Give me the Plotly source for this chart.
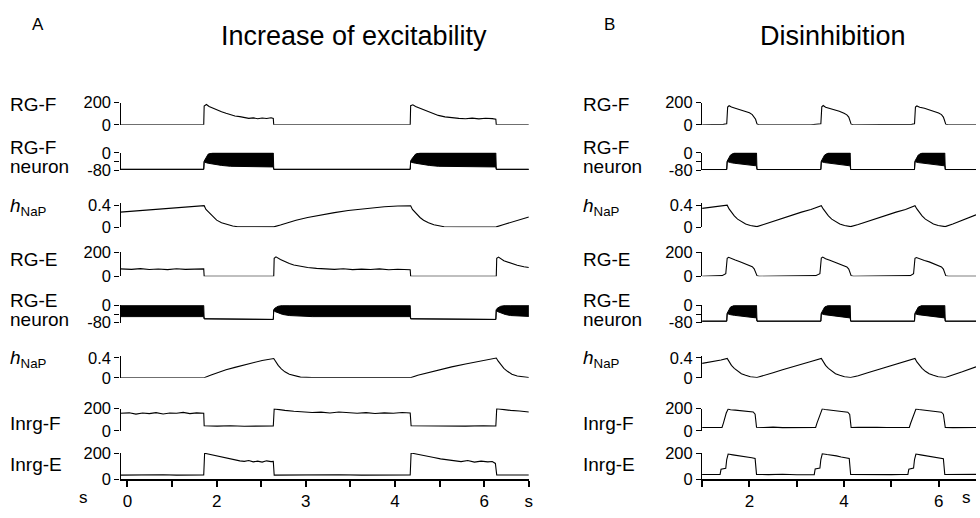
import plotly.graph_objects as go

# ---------------- panel A : increase of excitability ----------------
a_rgf_t = [-0.16, 1.71, 1.72, 1.77, 1.83, 1.91, 2.01, 2.11, 2.21, 2.31, 2.41, 2.52, 2.62, 2.72, 2.82, 2.92, 3.02, 3.12, 3.22, 3.27,
           3.28, 6.34, 6.35, 6.40, 6.46, 6.56, 6.67, 6.77, 6.87, 6.97, 7.12, 7.27, 7.43, 7.58, 7.73, 7.88, 8.03, 8.18, 8.26, 8.27, 9.0]
a_rgf = [0, 0, 170, 183, 165, 150, 138, 118, 104, 92, 80, 74, 66, 58, 63, 55, 61, 57, 64, 58,
         0, 0, 172, 180, 165, 148, 130, 112, 98, 85, 72, 62, 58, 55, 60, 54, 59, 56, 50, 0, 0]

# neuron traces: spike bursts drawn as an envelope (low / high membrane potential)
a_rgfn_t = [-0.16, 1.71, 1.72, 1.74, 1.81, 1.91, 2.11, 2.31, 2.52, 2.92, 3.27, 3.28,
            6.34, 6.35, 6.37, 6.46, 6.56, 6.77, 6.97, 7.27, 7.78, 8.26, 8.27, 9.0]
a_rgfn_hi = [-76, -76, -38, -30, -6, 0, 0, 0, 0, 0, 0, -76,
             -76, -38, -30, -6, 0, 0, 0, 0, 0, 0, -76, -76]
a_rgfn_lo = [-76, -76, -40, -44, -48, -53, -58, -62, -64, -65, -65, -76,
             -76, -40, -44, -48, -53, -58, -62, -64, -65, -65, -76, -76]

a_h1_t = [-0.16, 0.29, 0.69, 1.10, 1.50, 1.72, 1.76, 1.85, 1.93, 2.00, 2.11, 2.23, 2.36, 2.47, 2.72, 3.28, 3.43, 3.58, 3.78, 4.04,
          4.34, 4.64, 4.95, 5.35, 5.76, 6.06, 6.35, 6.39, 6.48, 6.56, 6.64, 6.75, 6.87, 7.00, 7.10, 7.48, 8.27, 8.44, 8.59, 8.79, 9.0]
a_h1 = [0.28, 0.31, 0.34, 0.37, 0.39, 0.40, 0.33, 0.25, 0.18, 0.13, 0.08, 0.045, 0.02, 0.008, 0.004, 0.005, 0.04, 0.08, 0.13, 0.18,
        0.23, 0.27, 0.31, 0.35, 0.38, 0.395, 0.40, 0.33, 0.25, 0.18, 0.13, 0.08, 0.045, 0.02, 0.008, 0.004, 0.005, 0.05, 0.09, 0.14, 0.19]

a_rge_t = [-0.16, 0.09, 0.29, 0.49, 0.69, 0.90, 1.10, 1.30, 1.50, 1.71, 1.72, 3.28, 3.29, 3.33, 3.43, 3.53, 3.63, 3.73, 3.88, 4.04,
           4.24, 4.44, 4.64, 4.84, 5.05, 5.25, 5.45, 5.65, 5.86, 6.06, 6.26, 6.34, 6.35, 8.27, 8.28, 8.32, 8.44, 8.59, 8.74, 8.89, 9.0]
a_rge = [62, 58, 64, 57, 61, 56, 63, 58, 60, 62, 0, 0, 150, 162, 140, 122, 106, 94, 82, 74,
         66, 62, 58, 63, 56, 60, 57, 62, 55, 59, 57, 55, 0, 0, 150, 160, 130, 108, 92, 80, 74]

a_rgen_t = [-0.16, 1.71, 1.72, 3.27, 3.28, 3.30, 3.38, 3.48, 3.63, 3.83, 4.14, 6.34, 6.35, 8.26, 8.27, 8.29, 8.37, 8.47, 8.59, 8.79, 9.0]
a_rgen_hi = [0, 0, -62, -65, -20, -14, -4, 0, 0, 0, 0, 0, -62, -65, -20, -14, -4, 0, 0, 0, 0]
a_rgen_lo = [-52, -52, -62, -65, -22, -28, -36, -42, -47, -50, -52, -52, -62, -65, -22, -28, -36, -42, -47, -50, -51]

a_h2_t = [-0.16, 1.72, 1.86, 2.01, 2.21, 2.41, 2.62, 2.82, 3.02, 3.28, 3.32, 3.38, 3.45, 3.53, 3.63, 3.75, 3.88, 4.14, 6.36, 6.51,
          6.72, 6.97, 7.27, 7.58, 7.88, 8.08, 8.27, 8.31, 8.37, 8.44, 8.52, 8.62, 8.74, 8.87, 9.0]
a_h2 = [0.0, 0.0, 0.05, 0.10, 0.16, 0.21, 0.26, 0.31, 0.35, 0.39, 0.33, 0.25, 0.18, 0.12, 0.07, 0.035, 0.012, 0.003, 0.003, 0.05,
        0.10, 0.16, 0.22, 0.28, 0.33, 0.37, 0.40, 0.34, 0.26, 0.19, 0.13, 0.07, 0.035, 0.012, 0.004]

a_inf_t = [-0.16, 0.04, 0.19, 0.34, 0.49, 0.64, 0.80, 0.95, 1.10, 1.25, 1.40, 1.55, 1.71, 1.72, 2.01, 2.31, 2.62, 2.92, 3.27, 3.29,
           3.38, 3.53, 3.73, 3.93, 4.14, 4.34, 4.54, 4.74, 4.95, 5.15, 5.35, 5.55, 5.76, 5.96, 6.16, 6.34, 6.36, 6.77, 7.17, 7.58,
           7.98, 8.26, 8.28, 8.39, 8.59, 8.79, 9.0]
a_inf = [158, 162, 150, 160, 155, 164, 152, 160, 158, 166, 155, 162, 158, 45, 42, 46, 41, 45, 44, 198,
         192, 184, 176, 170, 165, 168, 160, 170, 162, 158, 164, 156, 162, 158, 165, 160, 45, 43, 46, 42,
         45, 44, 200, 192, 184, 178, 170]

a_ine_t = [-0.16, 0.19, 0.49, 0.80, 1.10, 1.40, 1.71, 1.73, 1.81, 1.91, 2.01, 2.11, 2.21, 2.31, 2.41, 2.52, 2.62, 2.72, 2.82, 2.92,
           3.02, 3.12, 3.22, 3.27, 3.29, 3.73, 4.24, 4.74, 5.25, 5.76, 6.34, 6.36, 6.46, 6.56, 6.72, 6.87, 7.02, 7.17, 7.32, 7.48,
           7.63, 7.78, 7.93, 8.08, 8.18, 8.25, 8.28, 8.59, 9.0]
a_ine = [30, 32, 29, 33, 30, 32, 31, 198, 192, 186, 178, 170, 160, 152, 148, 140, 136, 142, 132, 138,
         130, 140, 134, 136, 30, 32, 29, 33, 30, 31, 32, 200, 192, 186, 175, 165, 155, 148, 140, 134,
         142, 130, 138, 132, 135, 120, 32, 30, 31]

# ---------------- panel B : disinhibition ----------------
b_rgf_t = [1.0, 1.3, 1.45, 1.52, 1.54, 1.57, 1.62, 1.7, 1.8, 1.9, 2.0, 2.06, 2.1, 2.13, 2.16, 2.2, 3.3, 3.45, 3.51, 3.53,
           3.56, 3.61, 3.7, 3.8, 3.9, 4.0, 4.06, 4.1, 4.12, 4.15, 4.2, 5.3, 5.43, 5.49, 5.51, 5.54, 5.6, 5.7, 5.8, 5.9,
           6.0, 6.06, 6.1, 6.12, 6.15, 6.2, 6.79]
b_rgf = [0, 0, 4, 10, 160, 172, 160, 150, 138, 124, 108, 92, 72, 50, 8, 0, 0, 4, 10, 162,
         174, 158, 148, 136, 122, 104, 90, 70, 48, 6, 0, 0, 4, 10, 160, 170, 158, 150, 136, 120,
         106, 92, 70, 46, 6, 0, 0]

b_nrn_t = [1.0, 1.52, 1.53, 1.55, 1.6, 1.68, 1.8, 2.0, 2.15, 2.16, 3.51, 3.52, 3.54, 3.59, 3.67, 3.8, 4.0, 4.13, 4.14, 5.49,
           5.50, 5.52, 5.57, 5.65, 5.8, 6.0, 6.13, 6.14, 6.79]
b_rgfn_hi = [-77, -77, -38, -28, -10, 0, 0, 0, 0, -77, -77, -38, -28, -10, 0, 0, 0, 0, -77, -77,
             -38, -28, -10, 0, 0, 0, 0, -77, -77]
b_rgfn_lo = [-77, -77, -40, -42, -45, -48, -52, -57, -60, -77, -77, -40, -42, -45, -48, -52, -57, -60, -77, -77,
             -40, -42, -45, -48, -52, -57, -60, -77, -77]

b_h_t = [1.0, 1.2, 1.4, 1.53, 1.57, 1.62, 1.68, 1.75, 1.83, 1.92, 2.02, 2.16, 2.3, 2.5, 2.7, 2.9, 3.1, 3.3, 3.52, 3.56,
         3.61, 3.67, 3.74, 3.82, 3.91, 4.01, 4.14, 4.3, 4.5, 4.7, 4.9, 5.1, 5.3, 5.50, 5.54, 5.59, 5.65, 5.72, 5.8, 5.89,
         5.99, 6.14, 6.3, 6.5, 6.79]
b_h1 = [0.35, 0.37, 0.39, 0.41, 0.34, 0.27, 0.21, 0.15, 0.10, 0.06, 0.03, 0.01, 0.05, 0.11, 0.17, 0.23, 0.28, 0.33, 0.40, 0.34,
        0.27, 0.21, 0.15, 0.10, 0.06, 0.03, 0.01, 0.05, 0.11, 0.17, 0.23, 0.28, 0.33, 0.40, 0.34, 0.27, 0.21, 0.15, 0.10, 0.06,
        0.03, 0.01, 0.06, 0.13, 0.23]

b_rge_t = [1.0, 1.3, 1.42, 1.5, 1.53, 1.56, 1.62, 1.7, 1.8, 1.9, 2.0, 2.06, 2.1, 2.13, 2.16, 2.2, 3.3, 3.4, 3.49, 3.52,
           3.55, 3.61, 3.7, 3.8, 3.9, 4.0, 4.06, 4.1, 4.12, 4.15, 4.2, 5.3, 5.4, 5.47, 5.5, 5.53, 5.6, 5.7, 5.8, 5.9,
           6.0, 6.06, 6.1, 6.12, 6.15, 6.2, 6.79]
b_rge = [0, 0, 6, 22, 150, 158, 146, 135, 122, 108, 94, 80, 62, 40, 6, 0, 0, 6, 22, 152,
         160, 146, 134, 120, 106, 92, 78, 60, 40, 6, 0, 0, 6, 22, 150, 156, 144, 132, 120, 106,
         90, 78, 60, 38, 6, 0, 0]

b_rgen_hi = [-73, -73, -36, -26, -8, 0, 0, 0, 0, -73, -73, -36, -26, -8, 0, 0, 0, 0, -73, -73,
             -36, -26, -8, 0, 0, 0, 0, -73, -73]
b_rgen_lo = [-73, -73, -38, -40, -43, -46, -50, -55, -58, -73, -73, -38, -40, -43, -46, -50, -55, -58, -73, -73,
             -38, -40, -43, -46, -50, -55, -58, -73, -73]

b_h2 = [0.29, 0.32, 0.36, 0.39, 0.32, 0.25, 0.19, 0.13, 0.08, 0.05, 0.02, 0.005, 0.04, 0.10, 0.16, 0.22, 0.28, 0.33, 0.39, 0.32,
        0.25, 0.19, 0.13, 0.08, 0.05, 0.02, 0.005, 0.04, 0.10, 0.16, 0.22, 0.28, 0.33, 0.39, 0.32, 0.25, 0.19, 0.13, 0.08, 0.05,
        0.02, 0.005, 0.05, 0.12, 0.22]

b_inf_t = [1.0, 1.15, 1.3, 1.42, 1.45, 1.48, 1.51, 1.55, 1.6, 1.7, 1.8, 1.9, 2.0, 2.08, 2.12, 2.15, 2.3, 2.5, 2.7, 2.9,
           3.1, 3.3, 3.4, 3.43, 3.47, 3.5, 3.54, 3.6, 3.7, 3.8, 3.9, 4.0, 4.08, 4.12, 4.15, 4.3, 4.5, 4.7, 4.9, 5.1,
           5.3, 5.38, 5.41, 5.45, 5.48, 5.52, 5.58, 5.68, 5.78, 5.88, 5.98, 6.06, 6.1, 6.14, 6.3, 6.5, 6.79]
b_inf = [30, 32, 28, 30, 70, 120, 160, 196, 190, 186, 182, 178, 175, 170, 150, 32, 30, 33, 29, 31,
         30, 32, 30, 72, 125, 165, 198, 192, 188, 182, 176, 172, 168, 148, 30, 32, 29, 31, 30, 33,
         30, 31, 70, 120, 162, 196, 192, 186, 180, 178, 172, 168, 150, 31, 29, 32, 30]

b_ine_t = [1.0, 1.2, 1.38, 1.40, 1.5, 1.52, 1.55, 1.65, 1.75, 1.85, 1.95, 2.05, 2.12, 2.15, 2.4, 2.7, 3.0, 3.2, 3.37, 3.39,
           3.49, 3.51, 3.54, 3.64, 3.74, 3.84, 3.94, 4.04, 4.11, 4.14, 4.4, 4.7, 5.0, 5.2, 5.35, 5.37, 5.47, 5.49, 5.52, 5.62,
           5.72, 5.82, 5.92, 6.02, 6.1, 6.13, 6.4, 6.79]
b_ine = [35, 33, 36, 75, 82, 150, 192, 186, 182, 176, 170, 164, 158, 36, 34, 37, 33, 35, 34, 78,
         85, 150, 194, 188, 184, 178, 170, 165, 158, 35, 33, 36, 34, 35, 36, 76, 84, 150, 192, 186,
         180, 176, 170, 162, 156, 35, 34, 36]

row_names = [["RG-F"], ["RG-F", "neuron"], ["<i>h</i><sub>NaP</sub>"], ["RG-E"], ["RG-E", "neuron"],
             ["<i>h</i><sub>NaP</sub>"], ["Inrg-F"], ["Inrg-E"]]
a_ticklabels = ["0", "", "2", "", "3", "", "4", "", "6", "s"]
b_ticklabels = ["", "2", "", "4", "", "6"]

A_ROWS = [("line", a_rgf_t, a_rgf), ("env", a_rgfn_t, a_rgfn_lo, a_rgfn_hi), ("line", a_h1_t, a_h1),
          ("line", a_rge_t, a_rge), ("env", a_rgen_t, a_rgen_lo, a_rgen_hi), ("line", a_h2_t, a_h2),
          ("line", a_inf_t, a_inf), ("line", a_ine_t, a_ine)]
B_ROWS = [("line", b_rgf_t, b_rgf), ("env", b_nrn_t, b_rgfn_lo, b_rgfn_hi), ("line", b_h_t, b_h1),
          ("line", b_rge_t, b_rge), ("env", b_nrn_t, b_rgen_lo, b_rgen_hi), ("line", b_h_t, b_h2),
          ("line", b_inf_t, b_inf), ("line", b_ine_t, b_ine)]

# layout (pixels)
W, H = 980, 518
ROW_PX = [(97, 120), (149, 167), (201, 226), (252, 277), (307, 325), (359, 382), (414, 437), (460, 487)]
LABEL_PX = [[99], [144, 163], [205], [259], [302, 322], [363], [429], [472]]
Y_RANGE = [[0, 200], [-80, 0], [0, 0.45], [0, 200], [-80, 0], [0, 0.45], [0, 200], [0, 200]]
Y_TICKS = [([0, 200], ["0", "200"]), ([-80, -40, 0], ["-80", "", "0"]), ([0, 0.4], ["0", "0.4"]),
           ([0, 200], ["0", "200"]), ([-80, -40, 0], ["-80", "", "0"]), ([0, 0.4], ["0", "0.4"]),
           ([0, 200], ["0", "200"]), ([0, 200], ["0", "200"])]
FONT = "Arial, Liberation Sans, sans-serif"

PANELS = [
    dict(rows=A_ROWS, xdom=[121, 531], xrange=[-0.156, 9.0], tickvals=list(range(10)),
         ticktext=a_ticklabels, label_x=8),
    dict(rows=B_ROWS, xdom=[705, 980], xrange=[1.0, 6.79], tickvals=[1, 2, 3, 4, 5, 6],
         ticktext=b_ticklabels, label_x=583),
]

fig = go.Figure()
layout = {}
annotations = []
for p, panel in enumerate(PANELS):
    xname = "x" if p == 0 else "x2"
    for r, row in enumerate(panel["rows"]):
        k = p * 8 + r + 1
        yname = "y" if k == 1 else f"y{k}"
        if row[0] == "line":
            fig.add_trace(go.Scatter(x=row[1], y=row[2], mode="lines", xaxis=xname, yaxis=yname,
                                     line=dict(color="black", width=1.1), showlegend=False, hoverinfo="skip"))
        else:
            t, lo, hi = row[1], row[2], row[3]
            fig.add_trace(go.Scatter(x=list(t) + list(t[::-1]), y=list(hi) + list(lo[::-1]), mode="lines",
                                     fill="toself", fillcolor="black", xaxis=xname, yaxis=yname,
                                     line=dict(color="black", width=1.0), showlegend=False, hoverinfo="skip"))
        top, bot = ROW_PX[r]
        layout["yaxis" if k == 1 else f"yaxis{k}"] = dict(
            domain=[1 - bot / H, 1 - top / H], range=Y_RANGE[r], anchor=xname,
            tickvals=Y_TICKS[r][0], ticktext=Y_TICKS[r][1], showline=True, linecolor="black", linewidth=1.3,
            ticks="outside", ticklen=5, tickwidth=1.3, tickcolor="black", showgrid=False, zeroline=False,
            tickfont=dict(size=16.5, color="black", family=FONT), fixedrange=True)
        for txt, ly in zip(row_names[r], LABEL_PX[r]):
            annotations.append(dict(x=panel["label_x"] / W, y=1 - ly / H, xref="paper", yref="paper",
                                    text=txt, showarrow=False, xanchor="left", yanchor="middle",
                                    font=dict(size=19, color="black", family=FONT)))
    xd = panel["xdom"]
    layout["xaxis" if p == 0 else "xaxis2"] = dict(
        domain=[xd[0] / W, xd[1] / W], range=panel["xrange"], anchor="y8" if p == 0 else "y16",
        tickvals=panel["tickvals"], ticktext=panel["ticktext"], showline=True, linecolor="black", linewidth=1.5,
        ticks="outside", ticklen=6, tickwidth=1.5, tickcolor="black", showgrid=False, zeroline=False,
        tickfont=dict(size=17, color="black", family=FONT), fixedrange=True)

texts = [("A", 38, 16, 17), ("Increase of excitability", 355, 28, 27),
         ("B", 612, 16, 17), ("Disinhibition", 836, 28, 27),
         ("s", 84, 506, 17), ("s", 970, 506, 17)]
for txt, x, y, size in texts:
    annotations.append(dict(x=x / W, y=1 - y / H, xref="paper", yref="paper", text=txt, showarrow=False,
                            xanchor="center", yanchor="middle", font=dict(size=size, color="black", family=FONT)))

fig.update_layout(width=W, height=H, margin=dict(l=0, r=0, t=0, b=0), paper_bgcolor="white",
                  plot_bgcolor="white", annotations=annotations, font=dict(family=FONT, color="black"), **layout)
fig.write_html("out.html", config={"displayModeBar": False},
               post_script="document.body.style.margin='0px';")
